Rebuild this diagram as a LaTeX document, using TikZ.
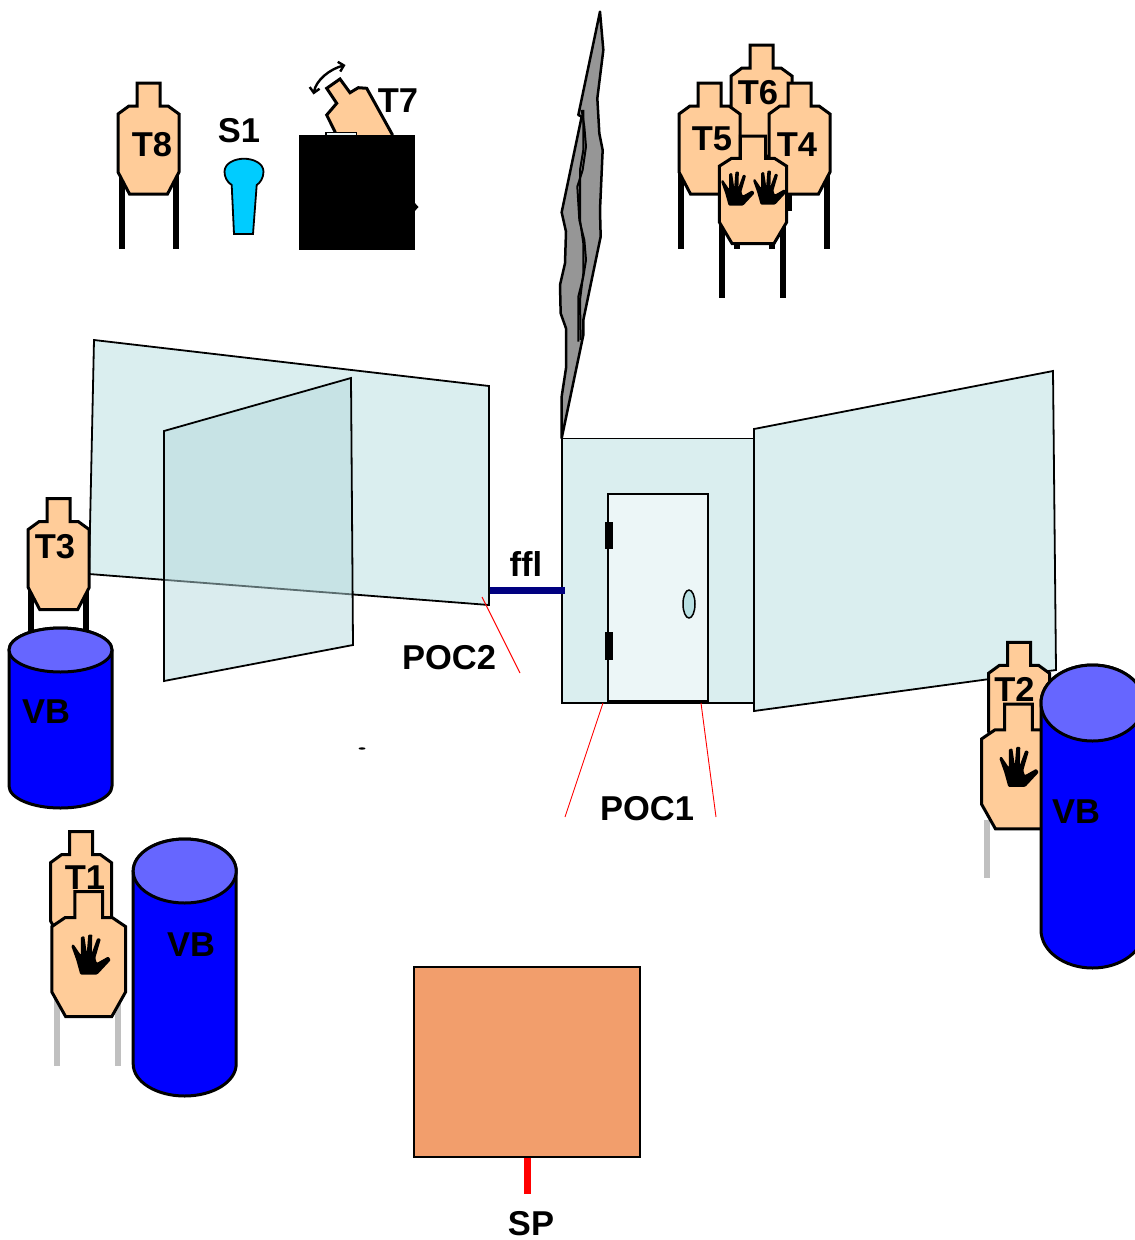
\documentclass[tikz,border=0pt]{standalone}
\usepackage{fontspec}
\usetikzlibrary{arrows.meta}
\setmainfont{Liberation Sans}
\definecolor{tan}{HTML}{FFCC99}
\definecolor{wallc}{HTML}{DAEEEF}
\definecolor{innerc}{HTML}{B5D9DD}
\definecolor{doorc}{HTML}{ECF6F7}
\definecolor{knobc}{HTML}{B8E0E3}
\definecolor{vbtop}{HTML}{6666FF}
\definecolor{boxc}{HTML}{F29E6C}
\definecolor{rock}{HTML}{969696}
\definecolor{sone}{HTML}{00CCFF}
\definecolor{legg}{HTML}{C0C0C0}
\definecolor{fflc}{HTML}{000080}
\tikzset{
  lbl/.style={font=\fontsize{34.5}{34.5}\selectfont\bfseries,inner sep=0pt,text=black},
  tgtshape/.style={draw=black,fill=tan,line width=3pt,line join=miter},
  wallshape/.style={draw=black,fill=wallc,line width=1.8pt,line join=miter},
  redline/.style={draw=red,line width=0.9pt},
  legline/.style={line width=6pt,line cap=butt},
  vbbody/.style={draw=black,fill=blue,line width=3pt},
  vblid/.style={draw=black,fill=vbtop,line width=3pt},
}
\newcommand{\tgtat}[4]{%
  \begin{scope}[shift={(#1,#2)},xscale=#3,yscale=#4]
    \path[tgtshape] (-11.5,0) -- (11.5,0) -- (11.5,23) -- (19.5,23) -- (30.5,31) -- (30.5,89) -- (19,111) -- (-19,111) -- (-30.5,89) -- (-30.5,31) -- (-19.5,23) -- (-11.5,23) -- cycle;
  \end{scope}}
\newcommand{\handat}[3]{%
  \begin{scope}[shift={(#1,#2)},scale=#3]
    \fill[black,rounded corners=1pt]
      (19.5,5) -- (6,19.5) -- (-11,19.5) -- (-15,5) -- (-20,-9) -- (-18,-11) -- (-10.5,0) -- (-10.5,-18) -- (-7,-19) -- (-4.5,-2) -- (-3,-20.5) -- (1,-20.5) -- (0.5,-2) -- (6,-17) -- (9.5,-16) -- (4,3) -- (5.5,8) -- (17,1.5) -- cycle;
  \end{scope}}
\newcommand{\legsat}[5]{%
  \draw[legline,#5] (#1,#3) -- (#1,#4);
  \draw[legline,#5] (#2,#3) -- (#2,#4);}
\newcommand{\vbat}[5]{% cx rx cy ry bottom
  \path[vbbody] (#1-#2,#3) -- (#1-#2,#5-#4) arc[start angle=180,end angle=0,x radius=#2,y radius=#4] -- (#1+#2,#3) arc[start angle=0,end angle=-180,x radius=#2,y radius=#4] -- cycle;
  \path[vblid] (#1,#3) ellipse[x radius=#2,y radius=#4];}
\begin{document}
\begin{tikzpicture}[x=1pt,y=-1pt]
\useasboundingbox (0,0) rectangle (1135,1240);
\clip (0,0) rectangle (1135,1240);
% rock
\begin{scope}[shift={(540,0)},scale=0.3333]
\path[draw=black,fill=rock,line width=2.5pt,line join=round] (180,35) -- (190,150) -- (172,295) -- (178,400) -- (188,450) -- (180,630) -- (182,710) -- (130,960) -- (130,1005) -- (65,1315) -- (65,1190) -- (78,1105) -- (78,985) -- (62,940) -- (60,855) -- (75,790) -- (78,695) -- (65,637) -- (125,350) -- (115,345) -- cycle;
\draw[black,line width=2pt,line join=round] (125,330) -- (133,380) -- (138,440) -- (128,510) -- (112,560) -- (118,660) -- (133,720) -- (138,780) -- (130,830) -- (115,890) -- (115,1025);
\draw[black,line width=2pt,line join=round] (130,330) -- (130,450) -- (120,510) -- (120,660) -- (130,730) -- (130,820) -- (120,900) -- (122,1020);
\end{scope}
% walls
\path[wallshape] (94,340) -- (489,386) -- (489,605) -- (89,574) -- cycle;
\path[draw=black,line width=1.8pt,fill=innerc,fill opacity=0.5] (164,431) -- (351,378) -- (353,645) -- (164,681) -- cycle;
\path[wallshape] (562,438.5) rectangle (754,703);
\path[wallshape] (754,429) -- (1053,371) -- (1056,670) -- (754,711) -- cycle;
\path[draw=black,fill=doorc,line width=2.2pt] (608,494) rectangle (708,701);
\fill[black] (605,522) rectangle (613,549);
\fill[black] (605,632) rectangle (613,660);
\path[draw=black,fill=knobc,line width=1.5pt] (689,604) ellipse[x radius=6,y radius=14];
\draw[line width=7pt,fflc] (489.5,590) -- (565,590);
\node[lbl] (ffl) at (526,564) {ffl};
\draw[redline] (482,597) -- (520,673);
\draw[redline] (603,703) -- (565,817);
\draw[redline] (701,703) -- (716,817);
\node[lbl] (poc2) at (449,658) {POC2};
\node[lbl] (poc1) at (647,809) {POC1};
\fill[black] (362,748.5) ellipse[x radius=3.5,y radius=1.2];
% T8
\legsat{121.5}{176}{165}{249}{black}
\tgtat{148.5}{83}{1}{1}
\node[lbl] (t8) at (152,145) {T8};
% S1
\node[lbl] (s1) at (239,131) {S1};
\path[draw=black,fill=sone,line width=1.8pt] (234,234) -- (231.7,185) .. controls (227,182) and (224.5,177) .. (224.5,171.7) .. controls (224.5,163) and (235,158.7) .. (244,158.7) .. controls (253,158.7) and (263.5,163) .. (263.5,171.7) .. controls (263.5,178) and (260,183) .. (256.7,185) -- (253,234) -- cycle;
% T7
\path[tgtshape] (326.7,88.3) -- (340,79) -- (350,92.7) -- (358.3,87.7) -- (366.7,88.3) -- (392,134) -- (392,140) -- (337,140) -- (335,131.7) -- (326.7,115) -- (336.7,103.3) -- cycle;
\path[draw=black,fill=doorc,line width=1.5pt] (326,132.5) rectangle (356.7,138);
\fill[black] (299,135) rectangle (415,250);
\fill[black] (414,202) -- (418.5,207) -- (414,212) -- cycle;
\node[lbl] (t7) at (398,101) {T7};
\coordinate (arcA) at (313.5,94.5);
\coordinate (arcB) at (345.5,65);
\draw[black,line width=2.4pt,{Straight Barb[length=5pt,width=10pt]}-{Straight Barb[length=5pt,width=10pt]}] (arcA) .. controls (316,80) and (330,69) .. (arcB);
% T6, T5, T4 cluster
\legsat{736}{789}{150}{211}{black}
\tgtat{761.5}{45}{1}{1}
\node[lbl] (t6) at (758,93) {T6};
\legsat{681}{737}{165}{249}{black}
\legsat{772}{827}{165}{249}{black}
\tgtat{709.5}{83}{1}{1}
\node[lbl] (t5) at (712,139) {T5};
\tgtat{799.5}{83}{1}{1}
\node[lbl] (t4) at (797,145) {T4};
\legsat{722}{783}{215}{298}{black}
\tgtat{753}{136}{1.1}{0.97}
\handat{738}{189}{0.85}
\handat{770}{188}{0.85}
% T3, VB
\legsat{30.7}{85.7}{585}{640}{black}
\tgtat{58.7}{498.5}{1}{1}
\node[lbl] (t3) at (55,547) {T3};
\vbat{60.5}{51.5}{650}{22}{808}
\node[lbl] (vb1) at (46,712) {VB};
% T1, VB
\legsat{57.3}{118.3}{985}{1066}{legg}
\tgtat{81}{831.7}{1}{1}
\node[lbl] (t1) at (85,878) {T1};
\tgtat{88.7}{891.7}{1.21}{1.126}
\handat{91.3}{955}{1}
\vbat{184.7}{51.5}{871}{32}{1096}
\node[lbl] (vb2) at (191,945) {VB};
% T2, VB
\legsat{987}{1048}{820}{878}{legg}
\tgtat{1019}{642.3}{1}{1}
\node[lbl] (t2) at (1014.5,689) {T2};
\tgtat{1018.5}{704}{1.21}{1.126}
\handat{1019.3}{767.3}{1}
\vbat{1092.5}{51.5}{703}{38}{968}
\node[lbl] (vb3) at (1076,812) {VB};
% range box
\path[draw=black,fill=boxc,line width=1.8pt] (414,967) rectangle (640,1157);
\draw[red,line width=7pt] (527,1157.5) -- (527,1194);
\node[lbl] (sp) at (531,1224) {SP};
\end{tikzpicture}
\end{document}
